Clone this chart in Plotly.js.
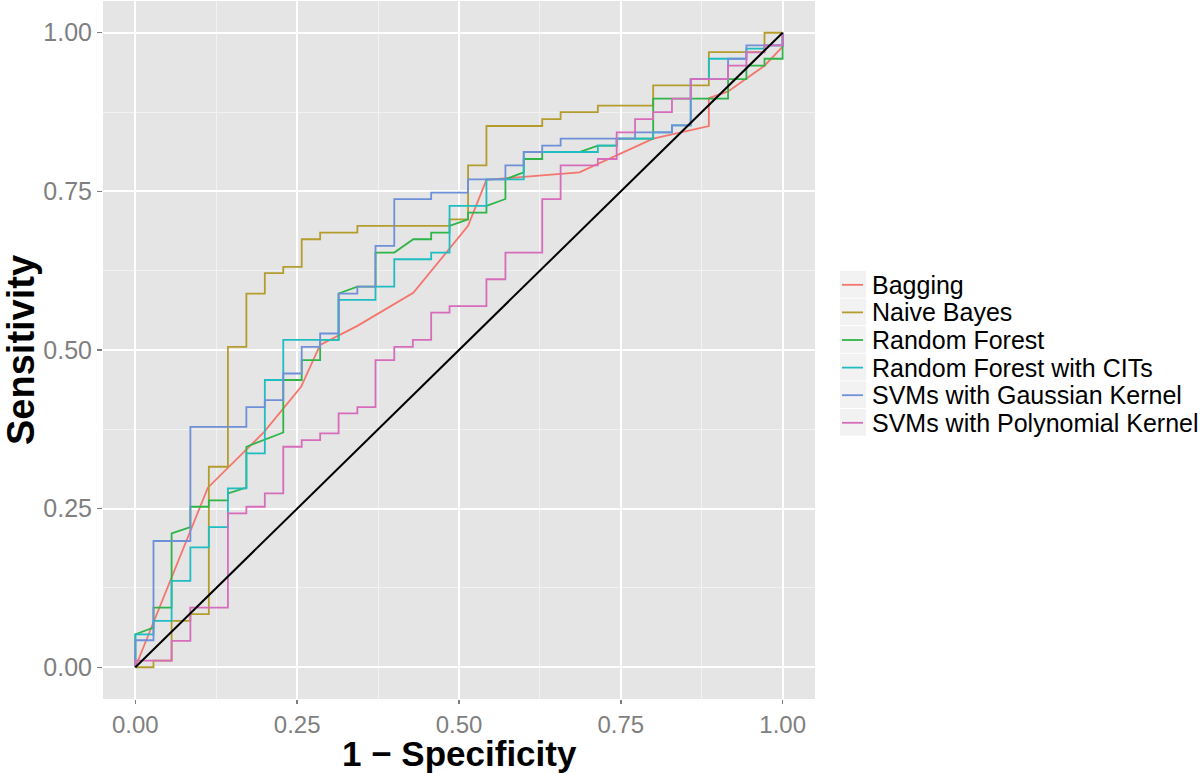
<!DOCTYPE html>
<html>
<head>
<meta charset="utf-8">
<script src="https://cdn.plot.ly/plotly-3.0.1.min.js"></script>
<style>html,body{margin:0;padding:0;background:#fff;}#chart{width:1200px;height:773px;}</style>
</head>
<body>
<div id="chart"></div>
<script>
// Series names
const seriesNames = ["Bagging", "Naive Bayes", "Random Forest", "Random Forest with CITs", "SVMs with Gaussian Kernel", "SVMs with Polynomial Kernel"];
const seriesColors = ["#F4756C", "#B49D2C", "#2FB449", "#1FBDC1", "#6E90D8", "#D86CBC"];

// ROC points (1 - specificity, sensitivity)
const baggingX = [0, 0.112, 0.199, 0.256, 0.2855, 0.343, 0.4294, 0.514, 0.5424, 0.686, 0.80, 0.886, 0.886, 0.9157, 0.972, 1, 1];
const baggingY = [0, 0.283, 0.371, 0.442, 0.508, 0.538, 0.590, 0.6956, 0.768, 0.780, 0.833, 0.853, 0.897, 0.9075, 0.948, 0.978, 1];

const naiveX = [0, 0.028, 0.028, 0.056, 0.056, 0.085, 0.085, 0.1135, 0.1135, 0.143, 0.143, 0.1715, 0.1715, 0.2, 0.2, 0.2285, 0.2285, 0.257, 0.257, 0.2855, 0.2855, 0.343, 0.343, 0.4854, 0.4854, 0.514, 0.514, 0.5424, 0.5424, 0.6286, 0.6286, 0.657, 0.657, 0.7145, 0.7145, 0.80, 0.80, 0.886, 0.886, 0.972, 0.972, 1];
const naiveY = [0, 0, 0.0105, 0.0105, 0.073, 0.073, 0.0836, 0.0836, 0.316, 0.316, 0.505, 0.505, 0.589, 0.589, 0.621, 0.621, 0.631, 0.631, 0.6745, 0.6745, 0.685, 0.685, 0.6956, 0.6956, 0.706, 0.706, 0.791, 0.791, 0.853, 0.853, 0.864, 0.864, 0.875, 0.875, 0.885, 0.885, 0.917, 0.917, 0.9695, 0.9695, 1, 1];

const rfX = [0, 0, 0.028, 0.028, 0.056, 0.056, 0.085, 0.085, 0.1135, 0.1135, 0.143, 0.143, 0.1715, 0.1715, 0.2285, 0.2285, 0.257, 0.257, 0.2855, 0.2855, 0.314, 0.314, 0.343, 0.371, 0.371, 0.4, 0.4294, 0.457, 0.457, 0.4854, 0.4854, 0.514, 0.514, 0.5424, 0.5424, 0.5717, 0.5717, 0.6, 0.6, 0.6286, 0.6286, 0.686, 0.7145, 0.7436, 0.7436, 0.80, 0.80, 0.9157, 0.9157, 0.944, 0.944, 0.972, 0.972, 1, 1];
const rfY = [0, 0.052, 0.0626, 0.094, 0.094, 0.211, 0.221, 0.253, 0.253, 0.263, 0.263, 0.274, 0.283, 0.3475, 0.37, 0.4527, 0.4527, 0.484, 0.484, 0.516, 0.516, 0.589, 0.600, 0.600, 0.6535, 0.6535, 0.6745, 0.6745, 0.685, 0.685, 0.6956, 0.706, 0.7166, 0.7166, 0.727, 0.738, 0.769, 0.780, 0.801, 0.801, 0.812, 0.812, 0.822, 0.822, 0.833, 0.833, 0.896, 0.896, 0.927, 0.927, 0.948, 0.948, 0.959, 0.959, 1];

const citX = [0, 0, 0.028, 0.028, 0.056, 0.056, 0.085, 0.085, 0.1135, 0.1135, 0.143, 0.143, 0.1715, 0.1715, 0.2, 0.2, 0.2285, 0.2285, 0.314, 0.314, 0.371, 0.371, 0.4, 0.4, 0.457, 0.457, 0.4854, 0.4854, 0.5424, 0.5424, 0.6, 0.6, 0.7145, 0.7145, 0.7436, 0.7436, 0.80, 0.80, 0.829, 0.829, 0.858, 0.858, 0.886, 0.886, 0.944, 0.944, 0.972, 0.972, 1, 1];
const citY = [0, 0.052, 0.052, 0.073, 0.073, 0.136, 0.136, 0.189, 0.189, 0.221, 0.221, 0.282, 0.282, 0.337, 0.337, 0.4527, 0.4527, 0.516, 0.516, 0.579, 0.579, 0.600, 0.600, 0.643, 0.643, 0.6535, 0.6535, 0.727, 0.727, 0.769, 0.769, 0.812, 0.812, 0.822, 0.822, 0.833, 0.833, 0.843, 0.843, 0.854, 0.854, 0.927, 0.927, 0.959, 0.959, 0.975, 0.975, 0.980, 0.980, 1];

const gaussX = [0, 0, 0.028, 0.028, 0.085, 0.085, 0.1715, 0.1715, 0.2, 0.2, 0.2285, 0.2285, 0.257, 0.257, 0.2855, 0.2855, 0.314, 0.314, 0.343, 0.343, 0.371, 0.371, 0.4, 0.4, 0.457, 0.457, 0.514, 0.514, 0.5717, 0.5717, 0.6, 0.6, 0.6286, 0.6286, 0.657, 0.657, 0.772, 0.772, 0.829, 0.829, 0.858, 0.858, 0.9157, 0.9157, 0.944, 0.944, 1, 1];
const gaussY = [0, 0.0426, 0.0426, 0.199, 0.199, 0.379, 0.379, 0.41, 0.41, 0.421, 0.421, 0.463, 0.463, 0.505, 0.505, 0.526, 0.526, 0.589, 0.589, 0.600, 0.600, 0.664, 0.664, 0.7377, 0.7377, 0.748, 0.748, 0.769, 0.769, 0.791, 0.791, 0.812, 0.812, 0.822, 0.822, 0.833, 0.833, 0.843, 0.843, 0.854, 0.854, 0.927, 0.927, 0.959, 0.959, 0.980, 0.980, 1];

const polyX = [0, 0, 0.056, 0.056, 0.085, 0.085, 0.143, 0.143, 0.1715, 0.1715, 0.2, 0.2, 0.2285, 0.2285, 0.257, 0.257, 0.2855, 0.2855, 0.314, 0.314, 0.343, 0.343, 0.371, 0.371, 0.4, 0.4, 0.4287, 0.4287, 0.457, 0.457, 0.4854, 0.4854, 0.5424, 0.5424, 0.5717, 0.5717, 0.6286, 0.6286, 0.657, 0.657, 0.7145, 0.7145, 0.7436, 0.7436, 0.772, 0.772, 0.80, 0.80, 0.829, 0.829, 0.858, 0.858, 0.9157, 0.9157, 0.944, 0.944, 0.972, 0.972, 1, 1];
const polyY = [0, 0.0105, 0.0105, 0.0415, 0.0415, 0.094, 0.094, 0.2424, 0.2424, 0.253, 0.253, 0.274, 0.274, 0.3475, 0.3475, 0.358, 0.358, 0.3686, 0.3686, 0.400, 0.400, 0.410, 0.410, 0.484, 0.484, 0.505, 0.505, 0.516, 0.516, 0.559, 0.559, 0.569, 0.569, 0.6115, 0.6115, 0.6535, 0.6535, 0.7377, 0.7377, 0.791, 0.791, 0.801, 0.801, 0.843, 0.843, 0.864, 0.864, 0.875, 0.875, 0.896, 0.896, 0.927, 0.927, 0.948, 0.948, 0.969, 0.969, 0.980, 0.980, 1];

const diagX = [0, 1];
const diagY = [0, 1];

const tickVals = [0, 0.25, 0.5, 0.75, 1];
const tickText = ["0.00", "0.25", "0.50", "0.75", "1.00"];
const xTitle = "1 \u2212 Specificity";
const yTitle = "Sensitivity";

const xs = [baggingX, naiveX, rfX, citX, gaussX, polyX];
const ys = [baggingY, naiveY, rfY, citY, gaussY, polyY];

const traces = seriesNames.map((name, i) => ({
  type: "scatter", mode: "lines", name: name,
  x: xs[i], y: ys[i],
  line: {color: seriesColors[i], width: 1.8, shape: "linear"},
  hoverinfo: "skip", showlegend: false
}));
traces.push({
  type: "scatter", mode: "lines", x: diagX, y: diagY,
  line: {color: "#000000", width: 2}, showlegend: false, hoverinfo: "skip"
});

const font = "Liberation Sans, Arial, Helvetica, sans-serif";

// page geometry (pixels)
const W = 1200, H = 773;
const M = {l: 103, r: 385, t: 1, b: 74};
const plotW = W - M.l - M.r, plotH = H - M.t - M.b;
const px2x = p => (p - M.l) / plotW;
const py2y = p => (H - M.b - p) / plotH;

// manual ggplot-style legend
const legTop = 271, legRow = 27.6, keyLeft = 840, keyW = 26, textLeft = 870;
const shapes = [], annotations = [];
seriesNames.forEach((name, i) => {
  const top = legTop + i * legRow, bot = top + legRow - 1, mid = top + legRow / 2;
  shapes.push({type: "rect", xref: "paper", yref: "paper",
    x0: px2x(keyLeft), x1: px2x(keyLeft + keyW), y0: py2y(bot), y1: py2y(top),
    fillcolor: "#F2F2F2", line: {width: 0}, layer: "below"});
  shapes.push({type: "line", xref: "paper", yref: "paper",
    x0: px2x(keyLeft + 2), x1: px2x(keyLeft + keyW - 3), y0: py2y(mid), y1: py2y(mid),
    line: {color: seriesColors[i], width: 1.8}});
  annotations.push({xref: "paper", yref: "paper", x: px2x(textLeft), y: py2y(mid),
    xanchor: "left", yanchor: "middle", showarrow: false, text: name,
    font: {family: font, size: 25, color: "#000000"}});
});

// axis titles as annotations for exact placement
annotations.push({xref: "paper", yref: "paper", x: 0.5, y: py2y(774),
  xanchor: "center", yanchor: "bottom", showarrow: false, text: xTitle,
  font: {family: font, size: 35, color: "#000000", weight: "bold"}, borderpad: 0});
annotations.push({xref: "paper", yref: "paper", x: px2x(21), y: py2y(350),
  xanchor: "center", yanchor: "middle", showarrow: false, text: yTitle, textangle: -90,
  font: {family: font, size: 38, color: "#000000", weight: "bold"}});

const axisCommon = {
  range: [-0.05, 1.05],
  tickvals: tickVals, ticktext: tickText,
  showgrid: true, gridcolor: "#FFFFFF", gridwidth: 2,
  zeroline: false, showline: false,
  ticks: "outside", ticklen: 4, tickwidth: 1.5, tickcolor: "#7F7F7F",
  tickfont: {family: font, size: 25, color: "#7F7F7F"},
  minor: {tickvals: [0.125, 0.375, 0.625, 0.875], showgrid: true, gridcolor: "#F2F2F2", gridwidth: 1, ticks: ""},
  fixedrange: true
};

const layout = {
  width: W, height: H,
  margin: {l: M.l, r: M.r, t: M.t, b: M.b, pad: 0},
  paper_bgcolor: "#FFFFFF",
  plot_bgcolor: "#E5E5E5",
  font: {family: font},
  xaxis: Object.assign({}, axisCommon, {tickfont: {family: font, size: 24, color: "#7F7F7F"}}),
  yaxis: Object.assign({}, axisCommon, {ticklen: 5}),
  shapes: shapes,
  annotations: annotations,
  showlegend: false
};

Plotly.newPlot("chart", traces, layout, {staticPlot: true, displayModeBar: false});
</script>
</body>
</html>
